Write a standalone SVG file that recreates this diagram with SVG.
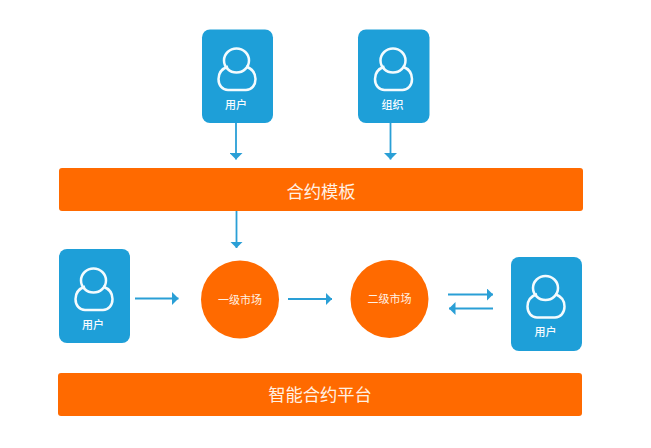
<svg xmlns="http://www.w3.org/2000/svg" width="651" height="448" viewBox="0 0 651 448">
  <style>
    .card { fill: #1e9fd8; }
    .bar { fill: #ff6a00; }
    .market { fill: #ff6a00; }
    .icon { fill: none; stroke: #f4fbfe; stroke-width: 2.5; stroke-linejoin: round; }
    text { font-family: "Noto Sans CJK SC", "Liberation Sans", sans-serif; fill: #f6fbfe; text-anchor: middle; }
    .card-label { font-size: 11px; font-weight: 500; }
    .bar-label { font-size: 17.3px; fill: #fff1e4; }
    .market-label { font-size: 11px; fill: #fff1e4; }
    .link { fill: none; stroke: #2a9fd6; stroke-width: 1.8; }
  </style>
  <defs>
    <marker id="head" markerUnits="userSpaceOnUse" markerWidth="7" markerHeight="13" refX="6.5" refY="6.5" orient="auto">
      <path d="M0 0L6.5 6.5L0 13Z" fill="#2a9fd6"/>
    </marker>
    <g id="person">
      <ellipse cx="-0.500" cy="-13.500" rx="12.500" ry="12"/>
      <path d="M-9 -7.500C-14.500 -5.500 -18.500 -1 -18.500 5C-18.500 11.500 -14.500 16 -9 16H9C14.500 16 18.500 11.500 18.500 5C18.500 -1 14.500 -5.500 9 -7.500"/>
    </g>
  </defs>

  <rect width="651" height="448" fill="#ffffff"/>

  <g id="connectors">
    <path class="link" d="M236 123V159.500" marker-end="url(#head)"/>
    <path class="link" d="M390.500 123V159.500" marker-end="url(#head)"/>
    <path class="link" d="M236.500 211V248" marker-end="url(#head)"/>
    <path class="link" d="M135 298.500H178.500" marker-end="url(#head)"/>
    <path class="link" d="M288 299H332" marker-end="url(#head)"/>
    <path class="link" d="M448 294.500H493" marker-end="url(#head)"/>
    <path class="link" d="M493 308.500H449" marker-end="url(#head)"/>
  </g>

  <g id="user-top">
    <rect class="card" x="202" y="29.500" width="71" height="93.500" rx="8"/>
    <use href="#person" class="icon" x="237" y="74"/>
    <text class="card-label" x="236" y="108.500">用户</text>
  </g>
  <g id="org-top">
    <rect class="card" x="358" y="29.500" width="71.500" height="93.500" rx="8"/>
    <use href="#person" class="icon" x="393.500" y="74"/>
    <text class="card-label" x="392.500" y="108.500">组织</text>
  </g>
  <g id="template-bar">
    <rect class="bar" x="59" y="168" width="524" height="43" rx="3"/>
    <text class="bar-label" x="321" y="198">合约模板</text>
  </g>
  <g id="user-left">
    <rect class="card" x="59" y="249" width="71" height="94" rx="8"/>
    <use href="#person" class="icon" x="94" y="294"/>
    <text class="card-label" x="93" y="328.500">用户</text>
  </g>
  <g id="primary-market">
    <circle class="market" cx="240" cy="299.500" r="39"/>
    <text class="market-label" x="240" y="303.500">一级市场</text>
  </g>
  <g id="secondary-market">
    <circle class="market" cx="389.500" cy="299" r="39"/>
    <text class="market-label" x="389.500" y="303">二级市场</text>
  </g>
  <g id="user-right">
    <rect class="card" x="511" y="257" width="71" height="94" rx="8"/>
    <use href="#person" class="icon" x="546" y="301.500"/>
    <text class="card-label" x="545.500" y="335.500">用户</text>
  </g>
  <g id="platform-bar">
    <rect class="bar" x="58" y="373" width="524" height="43" rx="3"/>
    <text class="bar-label" x="320" y="401">智能合约平台</text>
  </g>
</svg>
